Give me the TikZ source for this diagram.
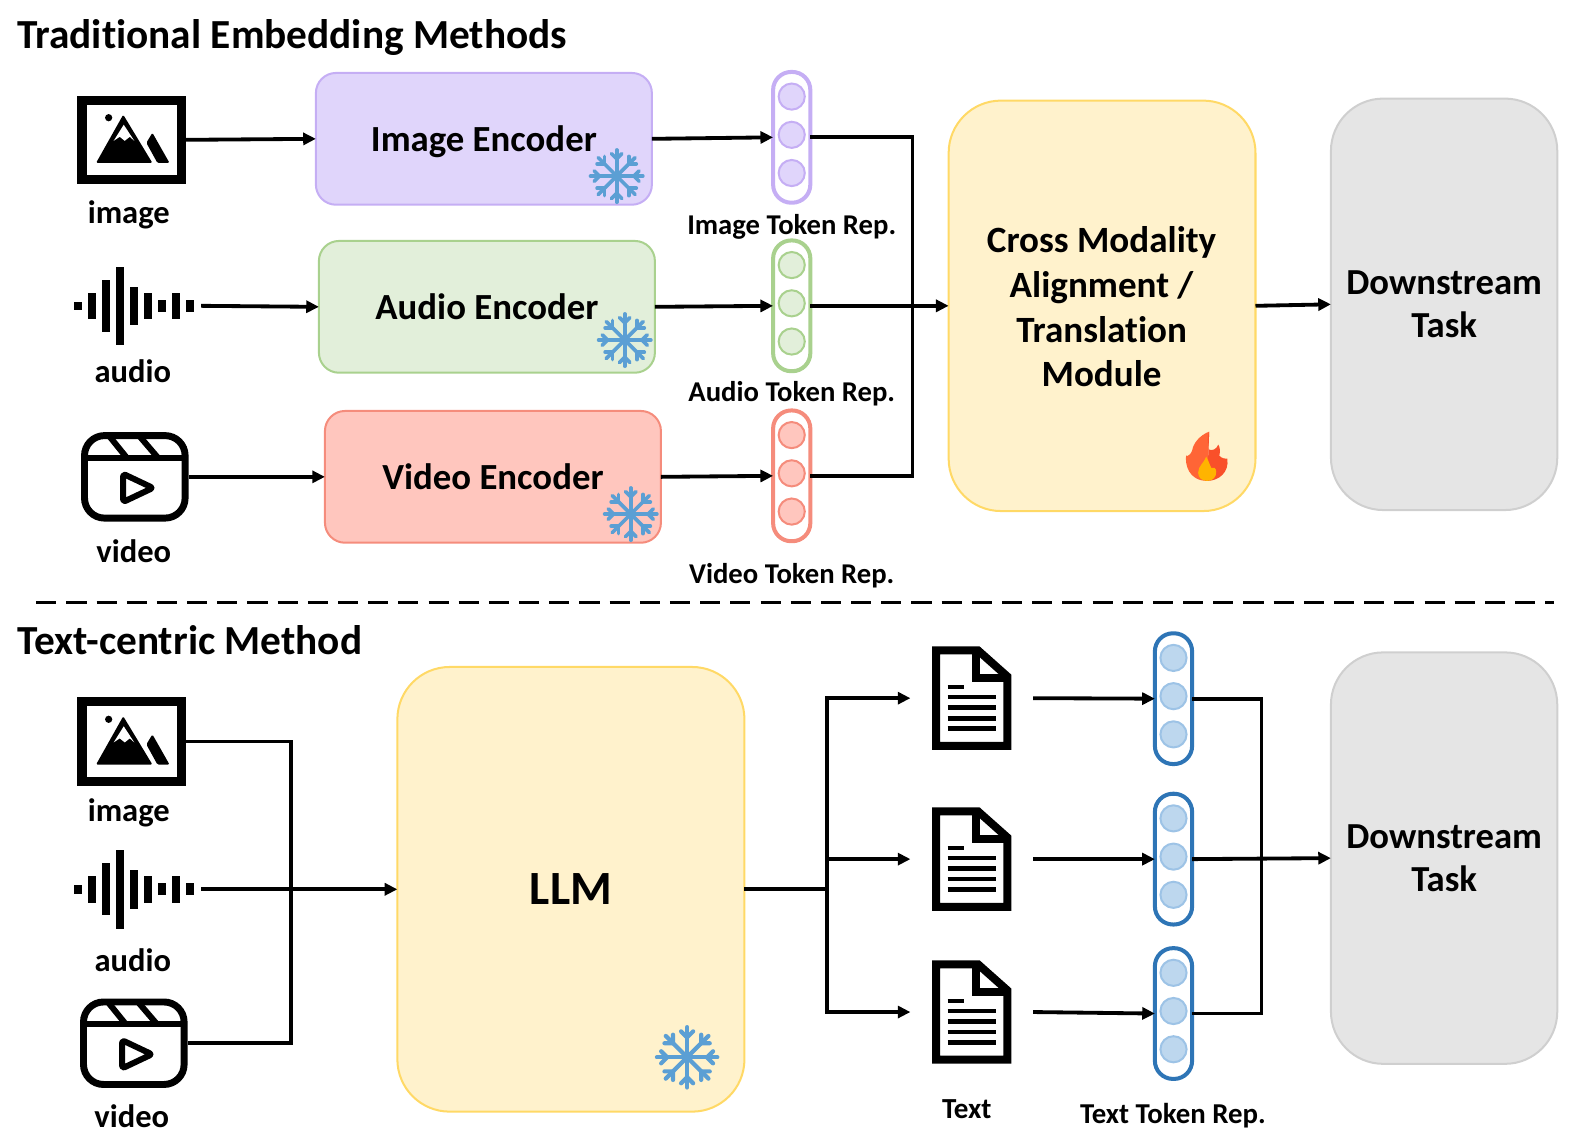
\documentclass[tikz,border=0pt]{standalone}
\usepackage{fontspec}
\setmainfont{Carlito}[Ligatures=CommonOff]
\usetikzlibrary{arrows.meta}
\usetikzlibrary{calc}
\definecolor{purpFill}{HTML}{E0D5FB}
\definecolor{purpLine}{HTML}{C5AEF4}
\definecolor{grnFill}{HTML}{E2EFDA}
\definecolor{grnLine}{HTML}{A9D18E}
\definecolor{redFill}{HTML}{FFC6BE}
\definecolor{redLine}{HTML}{F58C7C}
\definecolor{yelFill}{HTML}{FFF2CC}
\definecolor{yelLine}{HTML}{FFD966}
\definecolor{gryFill}{HTML}{E5E5E5}
\definecolor{gryLine}{HTML}{CFCFCF}
\definecolor{bluLine}{HTML}{2E75B6}
\definecolor{bluFill}{HTML}{BDD7EE}
\definecolor{bluDot}{HTML}{9DC3E6}
\definecolor{snowBlue}{HTML}{5B9FD4}
\definecolor{flameL}{HTML}{FF6536}
\definecolor{flameR}{HTML}{F9502A}
\definecolor{flameC}{HTML}{FFB400}
\def\pxu{0.7545pt}
\tikzset{
 every node/.style={outer sep=0},
 lbl/.style={font=\bfseries\fontsize{#1}{#1}\selectfont, inner sep=0},
 conn/.style={black, line width=3.8*\pxu},
 arr/.style={conn, -{Triangle[length=9.5pt,width=9pt]}},
 enc/.style n args={2}{draw=#1, fill=#2, line width=2*\pxu, rounded corners=20*\pxu, minimum width=334*\pxu, minimum height=131*\pxu, inner sep=0, text depth=0pt, font=\bfseries\fontsize{27.6}{27.6}\selectfont},
 bigbox/.style n args={2}{draw=#1, fill=#2, line width=2*\pxu, rounded corners=52*\pxu, inner sep=0},
 tokbar/.style={draw=#1, line width=4*\pxu, rounded corners=18*\pxu, minimum width=37*\pxu, minimum height=130*\pxu, inner sep=0},
 tokdot/.style n args={2}{circle, draw=#1, fill=#2, line width=2*\pxu, minimum size=26*\pxu, inner sep=0},
 slot/.style n args={2}{minimum width=#1*\pxu, minimum height=#2*\pxu, inner sep=0},
 pics/imageicon/.style={code={
  \draw[black, line width=6.8] (-49.5,-39.5) rectangle (49.5,39.5);
  \fill[black, rounded corners=1] (-8.5,-25) -- (20.5,23) -- (-35.5,23) -- cycle;
  \fill[white] (-8,-15) -- (2.5,1) -- (-2,-3) -- (-7,1) -- (-12,-3) -- (-18,1) -- cycle;
  \fill[black, rounded corners=1] (20.5,-7) -- (37.5,23) -- (25.5,23) -- (14.5,3) -- cycle;
  \fill[black] (-23,-22) circle (3.6);
 }},
 pics/audioicon/.style={code={
  \foreach \k/\hh in {0/4.3,1/13.2,2/25.8,3/39,4/19.2,5/13.2,6/6,7/13.2,8/6}
   \fill[black] ({(\k-4)*13.9-4.1},-\hh) rectangle ({(\k-4)*13.9+4.1},\hh);
 }},
 pics/videoicon/.style={code={
  \draw[black, line width=5.2, rounded corners=15] (-50,-41) rectangle (50,41);
  \draw[black, line width=4.5] (-50,-19) -- (50,-19);
  \draw[black, line width=4.5] (-25,-40) -- (-8,-19) (5,-40) -- (23,-19);
  \draw[black, line width=4.5, rounded corners=2, line join=round] (-11.6,-3) -- (18,11) -- (-11.6,25) -- cycle;
 }},
 pics/docicon/.style={code={
  \draw[black, line width=6, line join=miter] (-35.4,-47.4) -- (6.3,-47.4) -- (35.4,-21.5) -- (35.4,47.4) -- (-35.4,47.4) -- cycle;
  \draw[black, line width=6] (4,-47.4) -- (4,-20) -- (35.4,-20);
  \draw[black, line width=3.5] (-24,-11) -- (-7.3,-11);
  \foreach \yy in {-1,9.3,19.9,30}
   \draw[black, line width=3.5] (-24,\yy) -- (24.5,\yy);
 }},
 pics/snowflake/.style={code={
  \foreach \ang in {0,45,...,315} {
   \begin{scope}[rotate=\ang, snowBlue, line width=#1*.105, line cap=round]
    \draw (0,0) -- (#1,0);
    \draw (#1*.66,0) -- (#1*.86,#1*.2) (#1*.66,0) -- (#1*.86,-#1*.2);
   \end{scope}
  }
 }},
 pics/flameicon/.style={code={
  \fill[flameL] (2,-28) .. controls (-8,-24) and (-14,-16) .. (-15,-9) .. controls (-16,-6) and (-19,-3) .. (-21,-4) .. controls (-22,4) and (-19,21) .. (0,21) -- cycle;
  \fill[flameR] (0,21) .. controls (12,21) and (22,12) .. (20,-1) .. controls (18,-1) and (15,-1) .. (12,-4) .. controls (13,-8) and (13,-12) .. (11,-15) .. controls (9,-10) and (5,-9) .. (2,-10) .. controls (0,-16) and (0,-24) .. (2,-28) -- cycle;
  \fill[flameC] (-1,-3) .. controls (-3,3) and (-9,6) .. (-9,13) .. controls (-9,18) and (-5,21) .. (0,21) .. controls (6,21) and (9,17) .. (9,12) .. controls (9,8) and (6,7) .. (4,8) .. controls (2,4) and (1,0) .. (-1,-3) -- cycle;
 }},
}
\begin{document}
\begin{tikzpicture}[x=0.7545pt, y=-0.7545pt]
\useasboundingbox (0,0) rectangle (1568.6,1134.2);
\node[lbl=31, anchor=west] (topTitle) at (17,37) {Traditional Embedding Methods};
\node[lbl=31, anchor=west] (botTitle) at (17,636) {Text-centric Method};
\coordinate (dashL) at (36,599);
\coordinate (dashR) at (1545,599);
\draw[black, line width=2.6*\pxu, dash pattern=on 20*\pxu off 10*\pxu] (dashL) -- (dashR);
% upper half
\node[slot={108}{90}] (imgTop) at (131,139) {};
\node[slot={134}{80}] (audTop) at (133,304) {};
\node[slot={108}{90}] (vidTop) at (134,474) {};
\pic at (imgTop) {imageicon};
\pic at (audTop) {audioicon};
\pic at (vidTop) {videoicon};
\node[lbl=24.4] (imgTopLbl) at (128,214) {image};
\node[lbl=24.4] (audTopLbl) at (132,369) {audio};
\node[lbl=24.4] (vidTopLbl) at (133,548) {video};
\node[enc={purpLine}{purpFill}] (imgEnc) at (481,138) {Image Encoder};
\node[enc={grnLine}{grnFill}] (audEnc) at (484,305) {Audio Encoder};
\node[enc={redLine}{redFill}] (vidEnc) at (490,474) {Video Encoder};
\pic at (613,175) {snowflake=26};
\pic at (621,338) {snowflake=26};
\pic at (627,511) {snowflake=26};
\foreach \nm/\yy/\bc/\fc in {img/136.5/purpLine/purpFill, aud/304/grnLine/grnFill, vid/473/redLine/redFill} {
 \node[tokbar=\bc] (\nm Tok) at (787,\yy) {};
 \foreach \k/\dy in {A/-40.5,B/-2.5,C/35.5}
  \node[tokdot={\bc}{\fc}] (\nm Dot\k) at (787,\yy+\dy) {};
}
\node[lbl=21.5] (imgTokLbl) at (787,226) {Image Token Rep.};
\node[lbl=21.5] (audTokLbl) at (787,391) {Audio Token Rep.};
\node[lbl=21.5] (vidTokLbl) at (787,572) {Video Token Rep.};
\node[bigbox={yelLine}{yelFill}, minimum width=305*\pxu, minimum height=408*\pxu] (module) at (1095.5,304) {};
\node[align=center, inner sep=0, font=\bfseries\fontsize{27.8}{33.6}\selectfont] (moduleTxt) at (1095,305) {Cross Modality\\Alignment /\\Translation\\Module};
\pic at (1200,457) {flameicon};
\node[bigbox={gryLine}{gryFill}, minimum width=225*\pxu, minimum height=409*\pxu, align=center, text depth=0pt, font=\bfseries\fontsize{27.5}{32}\selectfont] (taskTop) at (1435.5,302.5) {Downstream\\Task};
\coordinate (tokJoin) at (907,304);
\draw[arr] (imgTop.east) -- (imgEnc.west);
\draw[arr] (audTop.east) -- (audEnc.west);
\draw[arr] (vidTop.east) -- (vidEnc.west);
\draw[arr] (imgEnc.east) -- (imgTok.west);
\draw[arr] (audEnc.east) -- (audTok.west);
\draw[arr] (vidEnc.east) -- (vidTok.west);
\draw[conn] (imgTok.east) -| (tokJoin) |- (vidTok.east);
\draw[arr] (audTok.east) -- (module.west);
\draw[arr] (module.east) -- (taskTop.west);
% lower half
\node[slot={108}{90}] (imgBot) at (131,737) {};
\node[slot={134}{80}] (audBot) at (133,884) {};
\node[slot={108}{90}] (vidBot) at (133,1037) {};
\pic at (imgBot) {imageicon};
\pic at (audBot) {audioicon};
\pic at (vidBot) {videoicon};
\node[lbl=24.4] (imgBotLbl) at (128,808) {image};
\node[lbl=24.4] (audBotLbl) at (132,954) {audio};
\node[lbl=24.4] (vidBotLbl) at (131,1110) {video};
\node[bigbox={yelLine}{yelFill}, minimum width=345*\pxu, minimum height=442*\pxu, align=center, font=\bfseries\fontsize{35.8}{35.8}\selectfont] (llm) at (567.5,884) {LLM};
\pic at (683,1051) {snowflake=30};
\foreach \nm/\yy in {A/694,B/854,C/1006} {
 \node[slot={122}{102}] (doc\nm) at (966,\yy) {};
 \pic at (doc\nm) {docicon};
}
\foreach \nm/\yy in {A/694.5,B/854,C/1007.5} {
 \node[tokbar=bluLine] (txtTok\nm) at (1166.5,\yy) {};
 \foreach \k/\dy in {A/-40.5,B/-2.5,C/35.5}
  \node[tokdot={bluDot}{bluFill}] (txtDot\nm\k) at (1166.5,\yy+\dy) {};
}
\node[lbl=21.8] (docLbl) at (961,1103) {Text};
\node[lbl=21.6] (txtTokLbl) at (1166,1109) {Text Token Rep.};
\node[bigbox={gryLine}{gryFill}, minimum width=225*\pxu, minimum height=409*\pxu, align=center, text depth=0pt, font=\bfseries\fontsize{27.5}{32}\selectfont] (taskBot) at (1435.5,853) {Downstream\\Task};
\coordinate (srcJoin) at (289,884);
\coordinate (llmJoin) at (822,884);
\coordinate (txtJoin) at (1254,853);
\draw[conn] (imgBot.east) -| (srcJoin) |- (vidBot.east);
\draw[arr] (audBot.east) -- (llm.west);
\draw[conn] (llm.east) -- (llmJoin);
\draw[arr] (llmJoin) |- (docA.west);
\draw[arr] (llmJoin) |- (docB.west);
\draw[arr] (llmJoin) |- (docC.west);
\draw[arr] (docA.east) -- (txtTokA.west);
\draw[arr] (docB.east) -- (txtTokB.west);
\draw[arr] (docC.east) -- (txtTokC.west);
\draw[conn] (txtTokA.east) -| (txtJoin) |- (txtTokC.east);
\draw[arr] (txtTokB.east) -- (taskBot.west);
\end{tikzpicture}
\end{document}
